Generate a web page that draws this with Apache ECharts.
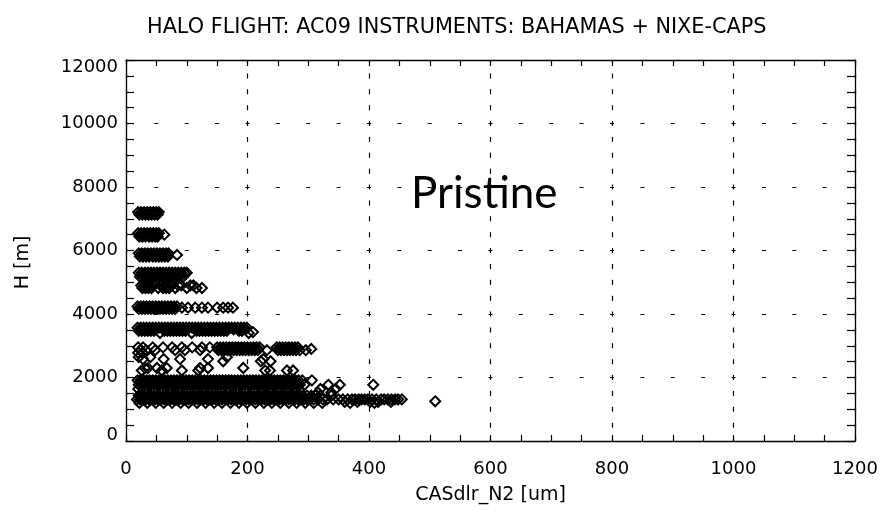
<!DOCTYPE html>
<html>
<head>
<meta charset="utf-8">
<script src="https://cdn.jsdelivr.net/npm/echarts@6/dist/echarts.min.js"></script>
<style>
  html, body { margin: 0; padding: 0; background: #fff; }
  #chart { width: 886px; height: 512px; }
</style>
</head>
<body>
<div id="chart"></div>
<script>
// Flight altitudes (m) at which CAS diameters were logged
const altitudes = [
  7210, 7130,
  6545, 6440, 6500,
  5910, 5810, 5860,
  5300, 5170,
  4900, 4820,
  4240, 4160, 4200,
  3570, 3520, 3470, 3400, 3430,
  2950, 2905, 2860, 2900, 2780,
  2640, 2580, 2510, 2300, 2220,
  1910, 1840, 1770, 1640, 1530,
  1430, 1370, 1310, 1230, 1200, 1250
];

// CASdlr_N2 diameters (um) recorded at each altitude above
const diameters = [
  [20, 25, 30, 35, 40, 45, 50, 54],
  [22, 27, 32, 37, 42, 47, 52],
  [20, 25, 30, 35, 40, 45, 50, 54],
  [22, 27, 32, 38, 43, 48, 52],
  [63],
  [21, 26, 31, 36, 41, 46, 51, 56, 61, 66, 70],
  [23, 28, 33, 38, 44, 49, 54, 59, 64, 69],
  [84],
  [21, 26, 31, 36, 41, 46, 51, 56, 61, 66, 71, 76, 81, 86, 91, 96, 100],
  [23, 28, 33, 38, 44, 49, 54, 59, 64, 69, 74, 79, 84, 89, 94],
  [25, 30, 35, 40, 45, 58, 63, 68, 73, 86, 91, 106, 111],
  [27, 32, 37, 42, 53, 61, 66, 71, 81, 100, 116, 125],
  [19, 24, 29, 34, 39, 44, 49, 54, 59, 64, 69, 74, 79, 84],
  [21, 26, 31, 36, 41, 46, 51, 56, 61, 66, 71, 76, 81],
  [92, 102, 114, 125, 135, 150, 160, 168, 176],
  [19, 24, 29, 34, 39, 44, 49, 54, 59, 64, 69, 74, 79, 84, 89, 94, 99, 104, 109, 114, 119, 124, 129, 134, 139, 144, 149, 154, 159, 164, 169, 174, 179, 184, 189, 194, 199],
  [27, 37, 47, 67, 77, 87, 97, 117, 127, 137, 147, 157, 167, 177, 187, 197],
  [21, 26, 31, 36, 41, 46, 63, 68, 73, 78, 83, 88, 93, 98, 116, 121, 126, 131, 136, 141, 146, 151, 156, 161, 166, 186, 191],
  [56, 108, 202],
  [209],
  [20, 28, 44, 61, 76, 92, 109, 125, 138, 150, 155, 160, 165, 170, 175, 180, 185, 190, 195, 200, 205, 210, 215, 220, 248, 253, 258, 263, 268, 273, 278, 283],
  [162, 172, 182, 192, 202, 212, 255, 265, 275],
  [24, 33, 48, 81, 97, 122, 152, 157, 162, 167, 172, 177, 182, 187, 192, 197, 202, 207, 212, 217, 232, 250, 255, 260, 265, 270, 275, 280, 286, 296],
  [305],
  [20, 27],
  [21, 40, 166],
  [28, 62, 89, 135, 226],
  [160, 222, 238],
  [31, 36, 51, 67, 122, 135, 193],
  [26, 59, 92, 119, 229, 237, 265, 275],
  [19, 24, 29, 34, 39, 44, 49, 54, 59, 64, 69, 74, 79, 84, 89, 94, 99, 104, 109, 114, 119, 124, 129, 134, 139, 144, 149, 154, 159, 164, 169, 174, 179, 184, 189, 194, 199, 204, 209, 214, 219, 224, 229, 234, 239, 244, 249, 254, 259, 264, 269, 274, 279, 284, 290, 306],
  [24, 34, 44, 54, 64, 74, 84, 94, 104, 114, 124, 134, 144, 154, 164, 174, 184, 194, 204, 214, 224, 234, 244, 254, 264, 274],
  [21, 26, 31, 36, 41, 46, 51, 56, 61, 66, 71, 76, 81, 86, 91, 96, 101, 106, 111, 116, 121, 126, 131, 136, 141, 146, 151, 156, 161, 166, 171, 176, 181, 186, 191, 196, 201, 206, 211, 216, 221, 226, 231, 236, 241, 246, 251, 256, 261, 266, 271, 276, 281, 286, 294, 333, 352, 407],
  [20, 33, 47, 60, 74, 87, 101, 115, 128, 142, 156, 169, 183, 196, 210, 224, 238, 251, 265, 279, 320, 345],
  [316, 338],
  [21, 26, 31, 36, 41, 46, 51, 56, 61, 66, 71, 76, 81, 86, 91, 96, 101, 106, 111, 116, 121, 126, 131, 136, 141, 146, 151, 156, 161, 166, 171, 176, 181, 186, 191, 196, 201, 206, 211, 216, 221, 226, 231, 236, 241, 246, 251, 256, 261, 266, 271, 276, 281, 286, 291, 298, 305, 312, 320, 338],
  [24, 34, 44, 54, 64, 74, 84, 94, 104, 114, 124, 134, 144, 154, 164, 174, 184, 194, 204, 214, 224, 234, 244, 254, 264, 274, 284, 294, 304],
  [18, 23, 28, 33, 38, 43, 48, 53, 58, 63, 68, 73, 78, 83, 88, 93, 98, 103, 108, 113, 118, 123, 128, 133, 138, 143, 148, 153, 158, 163, 168, 173, 178, 183, 188, 193, 198, 203, 208, 213, 218, 223, 228, 233, 238, 243, 248, 253, 258, 263, 268, 273, 278, 283, 288, 293, 298, 303, 309, 316, 324, 331, 341, 350, 357, 365, 372, 377, 383, 388, 393, 398, 405, 412, 420, 425, 431, 437, 443, 448, 454],
  [360, 381, 402, 415, 436],
  [22, 35, 49, 62, 76, 90, 103, 117, 131, 145, 158, 172, 186, 199, 213, 227, 240, 254, 268, 281, 295, 309, 323, 369, 409],
  [509]
];

// Axis ranges and tick steps
const xRange = [0, 1200];
const xStep = 200;
const yRange = [0, 12000];
const yStep = 2000;

const chartTitle = 'HALO FLIGHT: AC09 INSTRUMENTS: BAHAMAS + NIXE-CAPS';
const xName = 'CASdlr_N2 [um]';
const yName = 'H [m]';
const note = 'Pristine';

const points = [];
altitudes.forEach((h, i) => diameters[i].forEach(d => points.push([d, h])));

const INK = '#000';
const FONT = 'DejaVu Sans';
const frameLine = { show: true, onZero: false, lineStyle: { color: INK, width: 1.3 } };
const plain = v => String(v);

function frameAxis(extra, tickLen) {
  return Object.assign({
    type: 'value',
    axisLine: frameLine,
    axisTick: { show: true, inside: true, length: tickLen, lineStyle: { color: INK, width: 1.2 } },
    minorTick: { show: true, splitNumber: 4, length: tickLen, lineStyle: { color: INK, width: 1.2 } },
    splitLine: { show: false },
    axisLabel: { show: false }
  }, extra);
}

const labelFont = { fontFamily: FONT, fontSize: 18, color: INK };
const tickLabel = Object.assign({
  show: true, showMinLabel: true, showMaxLabel: true, hideOverlap: false, formatter: plain
}, labelFont);

// The end labels of the height axis sit a little inside the frame
const yTickLabel = Object.assign({}, tickLabel, {
  margin: 8,
  formatter: v => v === yRange[1] ? '{top|' + v + '}' : v === yRange[0] ? '{bottom|' + v + '}' : String(v),
  rich: {
    top: Object.assign({ padding: [14, 0, 0, 0] }, labelFont),
    bottom: Object.assign({ padding: [0, 0, 12, 0] }, labelFont)
  }
});

const chart = echarts.init(document.getElementById('chart'), null, { renderer: 'canvas' });
chart.setOption({
  animation: false,
  backgroundColor: '#fff',
  title: {
    text: chartTitle,
    left: 147,
    top: 17,
    padding: 0,
    textStyle: { fontFamily: FONT, fontSize: 20.8, fontWeight: 'normal', color: INK }
  },
  grid: { left: 126, right: 31, top: 60, bottom: 71, outerBoundsMode: 'none', containLabel: false },
  xAxis: [
    frameAxis({
      position: 'bottom',
      min: xRange[0], max: xRange[1], interval: xStep,
      name: xName, nameLocation: 'middle', nameGap: 45,
      nameTextStyle: { fontFamily: FONT, fontSize: 19, color: INK },
      axisLabel: Object.assign({ margin: 19 }, tickLabel),
      splitLine: { show: true, lineStyle: { color: INK, width: 1.2, type: [5, 10.875], dashOffset: 2.5 } }
    }, 6),
    frameAxis({ position: 'top', min: xRange[0], max: xRange[1], interval: xStep }, 6)
  ],
  yAxis: [
    frameAxis({
      position: 'left',
      min: yRange[0], max: yRange[1], interval: yStep,
      name: yName, nameLocation: 'middle', nameGap: 93, nameRotate: 90,
      nameTextStyle: { fontFamily: FONT, fontSize: 19, color: INK, padding: [0, 24, 0, 0] },
      axisLabel: yTickLabel,
      splitLine: { show: true, lineStyle: { color: INK, width: 1.2, type: [4, 26.375], dashOffset: 2 } }
    }, 8),
    frameAxis({ position: 'right', min: yRange[0], max: yRange[1], interval: yStep }, 8)
  ],
  graphic: [{
    type: 'text',
    left: 411,
    top: 172,
    style: { text: note, font: '44px Lato', fill: INK }
  }],
  series: [{
    type: 'scatter',
    xAxisIndex: 0,
    yAxisIndex: 0,
    data: points,
    symbol: 'diamond',
    symbolSize: 10,
    silent: true,
    itemStyle: { color: 'rgba(0,0,0,0)', borderColor: INK, borderWidth: 2, opacity: 1 }
  }]
});
</script>
</body>
</html>
